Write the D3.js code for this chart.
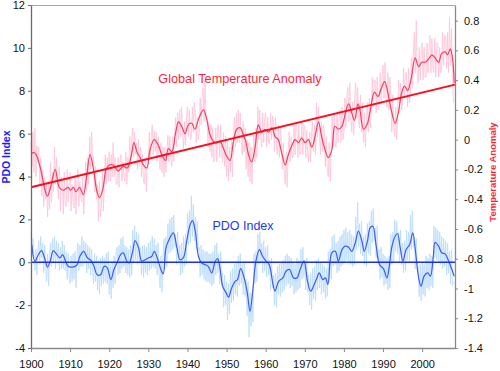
<!DOCTYPE html>
<html><head><meta charset="utf-8">
<script src="https://cdn.jsdelivr.net/npm/d3@7"></script>
<style>
html,body{margin:0;padding:0;background:#fff;}
svg{display:block;font-family:"Liberation Sans",Arial,sans-serif;}
</style></head>
<body><svg id="c" width="500" height="371"></svg>
<script>
// ---------- DATA ----------
const xTickYears = [1900,1910,1920,1930,1940,1950,1960,1970,1980,1990,2000];
const leftTicks = [-4,-2,0,2,4,6,8,10,12];
const rightTicks = [-1.4,-1.2,-1,-0.8,-0.6,-0.4,-0.2,0,0.2,0.4,0.6,0.8];

// raw series sampled quarterly starting 1900.0
const rawStart = 1900, rawStep = 0.25;
const tempRaw = [
-0.02,-0.18,0.05,-0.22, 0.08,-0.25,-0.04,-0.15, -0.05,-0.30,-0.12,-0.38, -0.20,-0.45,-0.25,-0.40, -0.30,-0.52,-0.28,-0.47,
-0.15,-0.42,-0.22,-0.35, -0.05,-0.30,-0.12,-0.28, -0.40,-0.18,-0.48,-0.25, -0.28,-0.50,-0.22,-0.44, -0.45,-0.20,-0.42,-0.30,
-0.22,-0.48,-0.30,-0.42, -0.46,-0.25,-0.50,-0.28, -0.20,-0.45,-0.28,-0.40, -0.42,-0.25,-0.50,-0.30, -0.15,-0.35,-0.12,-0.30,
0.02,-0.20,0.05,-0.15, -0.12,-0.35,-0.18,-0.40, -0.30,-0.55,-0.28,-0.52, -0.45,-0.22,-0.48,-0.30, -0.10,-0.30,-0.12,-0.28,
-0.08,-0.28,-0.10,-0.25, -0.02,-0.25,-0.12,-0.30, -0.30,-0.12,-0.32,-0.15, -0.10,-0.28,-0.15,-0.25, -0.28,-0.08,-0.30,-0.12,
-0.22,0.02,-0.18,0.00, 0.08,-0.12,0.05,-0.10, -0.02,-0.20,0.00,-0.18, -0.05,-0.25,-0.10,-0.28, -0.30,-0.12,-0.35,-0.15,
-0.15,0.05,-0.12,0.02, 0.10,-0.10,0.06,-0.08, 0.05,-0.15,0.02,-0.12, -0.20,-0.02,-0.22,-0.05, -0.25,-0.05,-0.22,-0.08,
0.03,-0.15,0.02,-0.12, -0.18,0.02,-0.15,0.06, 0.15,-0.05,0.18,0.00, 0.20,0.02,0.22,0.05, -0.06,0.12,-0.04,0.15,
0.22,0.02,0.20,0.00, 0.02,0.22,0.05,0.25, 0.18,-0.02,0.15,0.00, 0.05,0.28,0.10,0.30, 0.35,0.12,0.40,0.15,
0.15,-0.05,0.12,-0.08, 0.10,-0.12,0.08,-0.15, -0.12,0.08,-0.15,0.10, 0.08,-0.12,0.10,-0.10, -0.15,0.05,-0.18,0.02,
-0.25,-0.02,-0.28,-0.05, -0.22,0.00,-0.25,-0.02, 0.15,-0.05,0.18,-0.02, 0.20,-0.02,0.18,0.00, -0.10,0.12,-0.08,0.08,
-0.20,0.00,-0.25,-0.02, -0.28,-0.05,-0.30,-0.08, 0.05,-0.15,0.08,-0.12, 0.22,0.00,0.20,0.02, -0.05,0.18,-0.02,0.15,
0.18,-0.05,0.15,-0.02, -0.03,0.18,0.00,0.16, 0.12,-0.08,0.15,-0.05, -0.10,0.10,-0.12,0.08, 0.00,-0.20,-0.02,-0.22,
-0.30,-0.08,-0.32,-0.10, 0.05,-0.15,0.02,-0.12, -0.12,0.10,-0.10,0.12, 0.08,-0.12,0.10,-0.10, -0.08,0.12,-0.10,0.10,
0.08,-0.12,0.06,-0.10, -0.15,0.05,-0.15,0.05, 0.12,-0.08,0.10,-0.10, 0.25,0.02,0.22,0.05, -0.10,0.12,-0.08,0.10,
0.05,-0.18,0.02,-0.20, -0.25,-0.02,-0.28,-0.05, 0.15,-0.05,0.18,-0.02, -0.05,0.18,-0.02,0.15, 0.20,-0.02,0.22,0.00,
0.05,0.28,0.08,0.30, 0.35,0.12,0.38,0.15, 0.05,0.25,0.03,0.28, 0.38,0.15,0.35,0.12, 0.08,0.30,0.05,0.25,
-0.02,0.18,-0.05,0.15, 0.25,0.05,0.28,0.08, 0.20,0.42,0.22,0.40, 0.40,0.18,0.42,0.20, 0.22,0.45,0.25,0.42,
0.50,0.28,0.52,0.30, 0.22,0.45,0.20,0.42, 0.28,0.05,0.30,0.08, 0.02,0.22,0.00,0.20, 0.40,0.18,0.38,0.20,
0.25,0.48,0.28,0.45, 0.45,0.22,0.48,0.25, 0.32,0.55,0.35,0.58, 0.72,0.45,0.80,0.42, 0.38,0.62,0.40,0.60,
0.65,0.40,0.62,0.42, 0.42,0.65,0.45,0.62, 0.70,0.45,0.68,0.48, 0.45,0.68,0.42,0.65, 0.65,0.42,0.62,0.45,
0.48,0.72,0.50,0.70, 0.70,0.48,0.72,0.45, 0.82,0.50,0.75,0.42, 0.25
];
const pdoRaw = [
1.4,0.3,1.1,0.2, -0.4,0.6,-0.6,0.5, 1.0,-0.1,1.2,0.2, 0.9,-0.5,0.8,-0.2, -0.9,0.4,-1.1,0.3,
0.9,-0.2,1.1,0.0, 1.2,-0.3,1.0,0.1, 0.9,-0.4,0.7,-0.3, 1.0,-0.3,0.8,-0.4, 0.5,-0.8,0.4,-0.7,
-1.0,0.3,-0.9,0.4, -0.8,0.5,-1.2,0.3, 0.9,-0.4,0.8,-0.2, 1.2,-0.2,1.0,0.0, 0.9,-0.5,0.8,-0.3,
0.7,-0.6,0.6,-0.5, -1.0,0.4,-0.9,0.3, -1.3,0.1,-1.5,0.2, -1.1,0.3,-1.0,0.2, -0.9,0.4,-1.0,0.5,
-1.5,-0.1,-1.7,0.0, -1.2,0.3,-1.0,0.4, 0.7,-0.6,0.8,-0.5, 1.1,-0.3,1.2,-0.2, 0.8,-0.5,0.7,-0.6,
0.6,-0.7,0.8,-0.6, 1.5,0.0,1.7,0.1, 1.4,-0.1,1.3,0.0, 0.7,-0.6,0.8,-0.7, 0.8,-0.5,0.7,-0.6,
0.9,-0.4,1.0,-0.3, 1.2,-0.2,1.1,-0.3, 0.8,-0.6,0.9,-0.5, -1.2,0.3,-1.4,0.2, 1.1,-0.3,1.2,-0.2,
1.8,0.4,2.0,0.5, 2.1,0.6,2.2,0.7, 1.3,-0.1,1.4,0.0, 0.8,-0.6,0.9,-0.5, 1.2,-0.2,1.3,-0.1,
2.3,0.8,2.4,0.9, 3.1,1.2,2.7,1.0, 2.1,0.6,1.9,0.5, 0.7,-0.7,0.8,-0.6, 0.6,-0.8,0.5,-0.9,
0.5,-0.9,0.4,-1.0, 0.4,-1.1,0.5,-1.0, 0.8,-0.6,0.9,-0.5, 0.4,-1.0,0.5,-1.1, -0.5,-2.1,-0.6,-2.0,
-0.9,-2.7,-1.0,-2.4, -0.4,-1.9,-0.3,-1.8, -0.1,-1.5,0.0,-1.6, 0.3,-1.1,0.4,-1.0, -0.1,-1.5,0.0,-1.6,
-0.8,-2.5,-0.9,-3.5, -1.4,-3.0,-1.5,-2.8, 0.4,-1.0,0.5,-0.9, 1.3,-0.1,1.4,0.0, 0.9,-0.5,1.0,-0.4,
0.7,-0.7,0.8,-0.6, 0.1,-1.3,0.2,-1.2, -0.6,-2.0,-0.5,-2.1, -0.2,-1.5,-0.1,-1.6, 0.0,-1.4,0.1,-1.3,
0.3,-1.1,0.4,-1.0, 0.3,-1.2,0.2,-1.1, 0.0,-1.5,-0.1,-1.4, 0.2,-1.3,0.1,-1.2, 0.6,-0.8,0.7,-0.7,
0.1,-1.3,0.2,-1.4, -0.6,-2.0,-0.5,-2.2, -0.3,-1.7,-0.2,-1.8, 0.1,-1.3,0.2,-1.2, 0.0,-1.5,-0.1,-1.4,
-0.2,-1.7,-0.3,-1.6, 0.5,-0.9,0.6,-0.8, 1.2,-0.2,1.3,-0.1, 0.9,-0.5,1.0,-0.4, 1.2,-0.2,1.3,-0.1,
1.5,0.0,1.6,0.1, 1.4,0.0,1.5,-0.1, 1.3,-0.2,1.2,-0.1, 2.1,0.6,2.8,0.7, 1.8,0.4,1.9,0.3,
1.2,-0.1,1.3,-0.2, 1.8,0.4,1.9,0.3, 2.4,0.9,2.5,1.0, 1.6,0.2,1.7,0.1, 0.6,-0.8,0.7,-0.7,
0.4,-1.1,0.3,-1.0, 0.2,-1.3,0.3,-1.2, 1.3,-0.1,1.4,0.0, 2.0,0.5,1.9,0.4, 1.4,0.0,1.5,-0.1,
0.9,-0.5,1.0,-0.4, 1.5,0.1,1.4,0.0, 2.2,0.6,2.4,0.7, 1.2,-0.3,1.1,-0.4, -0.2,-1.6,-0.1,-1.8,
0.0,-1.5,-0.1,-1.6, 0.3,-1.2,0.2,-1.3, 0.4,-1.1,0.3,-1.2, 1.7,0.2,1.6,0.1, 1.5,0.0,1.4,-0.1,
1.2,-0.3,1.1,-0.2, 1.0,-0.6,0.9,-0.5, 0.5,-1.0,0.6,-1.1, -0.9
];

const tempSmoothYears = [1900,1901,1902.3,1903.6,1904.2,1905,1906.2,1907.2,1908.2,1909.5,1910.1,1910.8,1911.5,1912.4,1913.4,1914.2,1915.1,1916.1,1916.8,1917.5,1918.3,1919.2,1920,1921,1922.3,1923.6,1924.6,1925.7,1926.3,1927.2,1927.9,1928.7,1929.6,1930.4,1931.5,1932.6,1933.4,1934.4,1935.1,1936,1937,1937.7,1938.5,1939.4,1940.2,1941.1,1941.9,1943,1944.1,1944.9,1945.8,1946.6,1947.5,1948.3,1949.2,1950,1950.9,1951.7,1952.6,1953.5,1954.3,1954.9,1955.6,1956.4,1957.3,1958.1,1959,1959.8,1960.7,1961.6,1962.4,1963.2,1964.1,1965,1965.8,1966.7,1967.5,1968.4,1969.2,1970.1,1970.9,1971.8,1972.6,1973.5,1974.3,1975.2,1976,1976.9,1977.7,1978.6,1979.5,1980.3,1981.2,1982,1982.7,1983.6,1984.1,1985,1985.9,1986.7,1987.8,1988.7,1989.5,1990.4,1991.2,1992.1,1993.1,1993.9,1994.8,1995.5,1996.3,1997.2,1998.2,1999.1,1999.9,2000.8,2001.6,2002.5,2003.3,2004.2,2005,2005.9,2006.5,2007.2,2007.8,2008.2];
const tempSmoothVals = [-0.09,-0.09,-0.18,-0.34,-0.38,-0.32,-0.20,-0.32,-0.34,-0.32,-0.34,-0.32,-0.35,-0.32,-0.37,-0.25,-0.10,-0.22,-0.34,-0.39,-0.34,-0.20,-0.17,-0.17,-0.21,-0.18,-0.19,-0.10,-0.02,-0.09,-0.12,-0.17,-0.19,-0.07,0.00,-0.04,-0.10,-0.14,-0.06,-0.08,0.05,0.12,0.09,0.04,0.10,0.11,0.07,0.15,0.20,0.14,0.03,-0.01,-0.02,-0.01,-0.06,-0.11,-0.14,-0.02,0.07,0.08,0.03,-0.01,-0.10,-0.15,-0.05,0.10,0.05,0.07,0.05,0.08,0.02,0.00,-0.09,-0.17,-0.10,-0.04,0.00,-0.02,0.01,-0.02,0.00,-0.05,0.02,0.12,0.02,-0.07,-0.12,-0.07,0.09,0.07,0.09,0.17,0.24,0.18,0.13,0.24,0.20,0.07,0.10,0.19,0.32,0.29,0.34,0.39,0.32,0.20,0.11,0.18,0.32,0.36,0.33,0.41,0.55,0.49,0.52,0.52,0.54,0.57,0.55,0.52,0.58,0.59,0.57,0.61,0.54,0.38];

const trendYears = [1900, 2008.4];
const trendVals = [-0.32, 0.37];

const pdoSmoothYears = [1900.2,1901,1901.9,1902.7,1903.6,1904.2,1904.9,1905.7,1906.6,1907.4,1908.1,1908.7,1909.5,1910.4,1911.7,1912.5,1913.5,1914.4,1915.3,1916.1,1916.9,1917.8,1918.7,1919.5,1920.4,1921.2,1922.1,1922.9,1923.6,1924.5,1925.1,1926,1926.6,1927.5,1928.3,1929.2,1930,1930.9,1931.5,1932.3,1933.2,1933.8,1934.5,1935.4,1936.4,1937.3,1938.1,1939,1939.8,1940.7,1941.3,1942,1942.8,1943.6,1944.5,1945.3,1946.2,1947.1,1947.7,1948.3,1949,1949.9,1950.5,1951.3,1952.2,1952.8,1953.6,1954.5,1955.3,1956,1956.7,1957.5,1958.4,1959.2,1960.1,1960.9,1961.8,1962.4,1963.3,1964.4,1965.2,1966.1,1967.1,1968,1968.8,1969.8,1970.7,1971.5,1972.4,1973.1,1973.7,1974.6,1975.3,1975.9,1976.9,1977.8,1978.6,1979.5,1980.3,1981.2,1982,1982.9,1983.7,1984.6,1985.2,1986,1986.7,1987.4,1988.2,1989.1,1990.1,1991,1991.6,1992.2,1993.1,1993.7,1994.4,1995.1,1995.9,1996.8,1997.6,1998.3,1999.1,1999.7,2000.5,2001.4,2002.1,2002.9,2003.3,2004.2,2005,2005.9,2006.7,2007.6,2008.2];
const pdoSmoothVals = [0.82,0.05,0.36,0.54,0.12,-0.23,0.05,0.54,0.36,0.20,0.36,0.12,-0.19,-0.23,-0.14,0.28,0.51,0.20,0.09,-0.19,-0.58,-0.58,-0.19,-0.26,-0.81,-0.34,0.02,0.36,0.44,0.05,-0.03,0.51,1.01,0.67,0.05,0.12,0.20,0.28,0.51,0.20,-0.34,-0.54,0.67,1.10,1.37,0.67,0.12,0.23,0.98,1.76,1.94,1.45,0.28,-0.03,-0.11,-0.19,-0.50,0.05,0.17,-0.26,-1.12,-1.43,-1.63,-1.20,-0.89,-0.81,-0.30,-0.73,-1.43,-2.29,-1.32,0.05,0.59,0.28,0.05,-0.11,-0.96,-1.35,-0.89,-0.73,-0.42,-0.34,-0.73,-0.73,-0.34,0.05,-0.89,-1.35,-1.04,-0.73,-0.50,-0.81,-0.73,-1.04,0.44,0.51,0.05,0.59,0.75,0.70,0.51,0.90,1.45,0.98,0.51,0.98,1.60,1.68,0.82,-0.11,-0.30,-0.73,-0.19,0.67,1.21,1.34,0.67,0.05,0.59,0.82,1.37,0.51,-0.73,-1.12,-0.65,-0.50,-0.65,0.36,0.93,0.75,0.44,0.39,0.08,-0.34,-0.65];

const pdoZeroYears = [1900, 2008.4];
const pdoZeroVals = [0, 0];

// ---------- CHART ----------
const svg = d3.select("#c");
const L = 31, R = 455, T = 5, B = 348;
const x = d3.scaleLinear().domain([1900, 2008.4]).range([L, R]);
const yL = d3.scaleLinear().domain([-4, 12]).range([B, T]);
const yR = d3.scaleLinear().domain([-1.4, 0.905]).range([B, T]);

const curve = d3.curveCatmullRom.alpha(0.5);
const lineL = d3.line().x(d => x(d[0])).y(d => yL(d[1]));
const lineR = d3.line().x(d => x(d[0])).y(d => yR(d[1]));

const zip = (a, b) => a.map((v, i) => [v, b[i]]);
const rawPts = arr => arr.map((v, i) => [rawStart + i * rawStep, v]);

// top border
svg.append("line").attr("x1", L).attr("x2", R).attr("y1", T + 0.5).attr("y2", T + 0.5)
  .attr("stroke", "#a8a8a8").attr("stroke-width", 1);

const g = svg.append("g");
g.append("path").datum(rawPts(tempRaw)).attr("d", lineR)
  .attr("fill", "none").attr("stroke", "#ffc2d6").attr("stroke-width", 0.8);
g.append("path").datum(rawPts(pdoRaw)).attr("d", lineL)
  .attr("fill", "none").attr("stroke", "#b6dafd").attr("stroke-width", 0.8);
g.append("path").datum(zip(tempSmoothYears, tempSmoothVals)).attr("d", lineR.curve(curve))
  .attr("fill", "none").attr("stroke", "#f2405e").attr("stroke-width", 1.2);
g.append("path").datum(zip(pdoSmoothYears, pdoSmoothVals)).attr("d", lineL.curve(curve))
  .attr("fill", "none").attr("stroke", "#3f5cf0").attr("stroke-width", 1.2);
g.append("path").datum(zip(trendYears, trendVals)).attr("d", d3.line().x(d => x(d[0])).y(d => yR(d[1])))
  .attr("fill", "none").attr("stroke", "#ff0a1e").attr("stroke-width", 2);
g.append("path").datum(zip(pdoZeroYears, pdoZeroVals)).attr("d", d3.line().x(d => x(d[0])).y(d => yL(d[1])))
  .attr("fill", "none").attr("stroke", "#1a2fe0").attr("stroke-width", 1.6);

// axes
function styleAxis(sel, color) {
  sel.select(".domain").attr("stroke", color).attr("stroke-width", 1.3);
  sel.selectAll(".tick line").attr("stroke", color);
  sel.selectAll(".tick text").attr("fill", "#111").attr("font-size", "11px")
    .attr("font-family", '"Liberation Sans",Arial,sans-serif');
}
const ax = svg.append("g").attr("transform", `translate(0,${B})`)
  .call(d3.axisBottom(x).tickValues(xTickYears).tickSize(4).tickSizeOuter(0).tickPadding(8).tickFormat(d3.format("d")));
styleAxis(ax, "#8a8a8a");
const al = svg.append("g").attr("transform", `translate(${L},0)`)
  .call(d3.axisLeft(yL).tickValues(leftTicks).tickSize(3).tickSizeOuter(0).tickPadding(3).tickFormat(d => String(d)));
styleAxis(al, "#6a6a6a");
const ar = svg.append("g").attr("transform", `translate(${R},0)`)
  .call(d3.axisRight(yR).tickValues(rightTicks).tickSize(3).tickSizeOuter(0).tickPadding(6).tickFormat(d => String(d)));
styleAxis(ar, "#8a8a8a");

// labels
svg.append("text").attr("x", 240).attr("y", 83).attr("text-anchor", "middle")
  .attr("font-size", "12.7px").attr("fill", "#ff1f3d").text("Global Temperature Anomaly");
svg.append("text").attr("x", 243).attr("y", 230).attr("text-anchor", "middle")
  .attr("font-size", "12.5px").attr("fill", "#2238f0").text("PDO Index");
svg.append("text").attr("transform", "translate(9.5,157) rotate(-90)").attr("text-anchor", "middle")
  .attr("font-size", "10.5px").attr("font-weight", "bold").attr("fill", "#1a1aff").text("PDO Index");
svg.append("text").attr("transform", "translate(496,172) rotate(-90)").attr("text-anchor", "middle")
  .attr("font-size", "9.5px").attr("font-weight", "bold").attr("fill", "#ff1f3d").text("Temperature Anomaly");
</script></body></html>
